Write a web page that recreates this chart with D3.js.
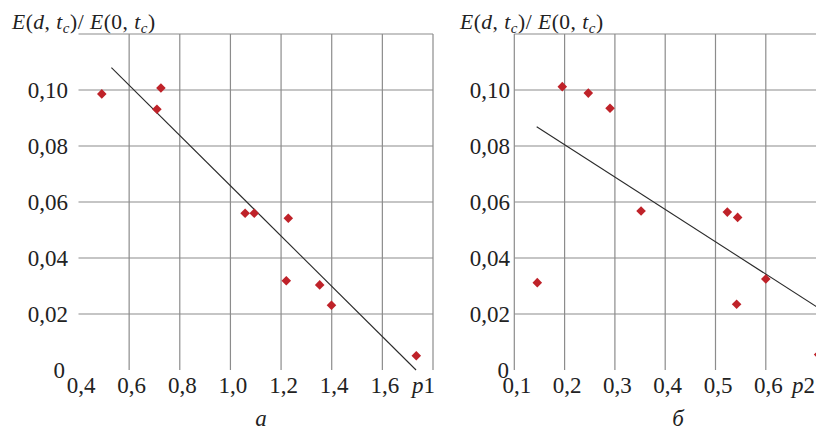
<!DOCTYPE html>
<html><head><meta charset="utf-8">
<script src="https://cdn.jsdelivr.net/npm/d3@7"></script>
</head>
<body style="margin:0;background:#fff"><svg id="c" width="816" height="432" style="display:block"></svg>
<script>
// Panel а: E(d,tc)/E(0,tc) vs p1
const p1Values = [0.492, 0.7255, 0.7097, 1.058, 1.094, 1.2285, 1.2206, 1.3525, 1.399, 1.734];
const ratioA   = [0.0986, 0.1007, 0.0931, 0.0560, 0.0560, 0.0542, 0.0319, 0.0304, 0.0231, 0.0051];
const fitA = [[0.53, 0.108], [1.733, 0.0]];
const xTicksA = [0.4, 0.6, 0.8, 1.0, 1.2, 1.4, 1.6];

// Panel б: E(d,tc)/E(0,tc) vs p2
const p2Values = [0.1954, 0.2471, 0.2903, 0.352, 0.5235, 0.544, 0.1457, 0.600, 0.542, 0.705];
const ratioB   = [0.1012, 0.0989, 0.0935, 0.0568, 0.0564, 0.0545, 0.0312, 0.0325, 0.0235, 0.0055];
const fitB = [[0.1445, 0.0869], [0.7006, 0.0226]];
const xTicksB = [0.1, 0.2, 0.3, 0.4, 0.5, 0.6];

const yTicks = [0, 0.02, 0.04, 0.06, 0.08, 0.10];
const yGrid  = [0.02, 0.04, 0.06, 0.08, 0.10, 0.12];

const FONT = '"Liberation Serif"';
const svg = d3.select("#c");
const gridColor = "#8c8c8c";
const fmtY = v => v === 0 ? "0" : d3.format(".2f")(v).replace(".", ",");
const fmtX = v => d3.format(".1f")(v).replace(".", ",");

const y = d3.scaleLinear().domain([0, 0.12]).range([370, 34]);

function panel(o) {
  const x = d3.scaleLinear().domain(o.xDomain).range(o.xRange);
  const g = svg.append("g");
  const [x0, x1] = o.xRange;
  g.selectAll("line.h").data(yGrid).join("line")
    .attr("x1", x0).attr("x2", x1)
    .attr("y1", d => y(d)).attr("y2", d => y(d))
    .attr("stroke", gridColor).attr("stroke-width", 1.2);
  g.selectAll("line.v").data(o.vGrid).join("line")
    .attr("x1", d => x(d)).attr("x2", d => x(d))
    .attr("y1", y(0.12)).attr("y2", y(0))
    .attr("stroke", gridColor).attr("stroke-width", 1.2);
  g.selectAll("text.yt").data(yTicks).join("text")
    .style("font-family", FONT)
    .attr("x", d => d === 0 ? o.yLabelX - o.zeroShift : o.yLabelX).attr("y", d => y(d))
    .attr("dy", "0.33em").attr("text-anchor", "end")
    .attr("font-size", 23).attr("fill", "#222")
    .text(fmtY);
  g.selectAll("text.xt").data(o.xTicks).join("text")
    .style("font-family", FONT)
    .attr("x", d => x(d) + 2.5).attr("y", 393)
    .attr("text-anchor", "middle")
    .attr("font-size", 23).attr("fill", "#222")
    .text(fmtX);
  const pl = g.append("text").style("font-family", FONT).attr("x", o.pX).attr("y", 393)
    .attr("text-anchor", o.pAnchor).attr("font-size", 23).attr("fill", "#222");
  pl.append("tspan").attr("font-style", "italic").text("p");
  pl.append("tspan").text(o.pSub);
  const t = g.append("text").style("font-family", FONT).attr("x", o.titleX).attr("y", 29)
    .attr("font-size", 21.5).attr("letter-spacing", 0.5).attr("fill", "#222");
  t.append("tspan").attr("font-style", "italic").text("E");
  t.append("tspan").text("(");
  t.append("tspan").attr("font-style", "italic").text("d");
  t.append("tspan").text(", ");
  t.append("tspan").attr("font-style", "italic").text("t");
  t.append("tspan").attr("font-style", "italic").attr("font-size", 15).attr("dy", 4).text("c");
  t.append("tspan").attr("dy", -4).text(")/ ");
  t.append("tspan").attr("font-style", "italic").text("E");
  t.append("tspan").text("(0, ");
  t.append("tspan").attr("font-style", "italic").text("t");
  t.append("tspan").attr("font-style", "italic").attr("font-size", 15).attr("dy", 4).text("c");
  t.append("tspan").attr("dy", -4).text(")");
  g.append("path")
    .attr("d", d3.line().x(d => x(d[0])).y(d => y(d[1]))(o.fit))
    .attr("fill", "none").attr("stroke", "#2a2a2a").attr("stroke-width", 1.1);
  g.selectAll("path.pt").data(o.xs).join("path")
    .attr("d", d3.symbol().type(d3.symbolSquare).size(46))
    .attr("transform", (d, i) => `translate(${x(d)},${y(o.ys[i])}) rotate(45)`)
    .attr("fill", "#bf2229");
  g.append("text").style("font-family", FONT).attr("x", o.capX).attr("y", 426)
    .attr("text-anchor", "middle").attr("font-size", 23)
    .attr("font-style", "italic").attr("fill", "#222").text(o.caption);
}

panel({
  xDomain: [0.4, 1.8], xRange: [78.5, 433],
  vGrid: [0.6, 0.8, 1.0, 1.2, 1.4, 1.6, 1.8],
  xTicks: xTicksA, yLabelX: 68, zeroShift: 3, pX: 435, pAnchor: "end", pSub: "1",
  titleX: 12, fit: fitA, xs: p1Values, ys: ratioA, capX: 261, caption: "а"
});
panel({
  xDomain: [0.1, 0.7], xRange: [514.3, 816.1],
  vGrid: [0.1, 0.2, 0.3, 0.4, 0.5, 0.6],
  xTicks: xTicksB, yLabelX: 510, zeroShift: 1, pX: 792, pAnchor: "start", pSub: "2",
  titleX: 460, fit: fitB, xs: p2Values, ys: ratioB, capX: 678, caption: "б"
});
</script></body></html>
